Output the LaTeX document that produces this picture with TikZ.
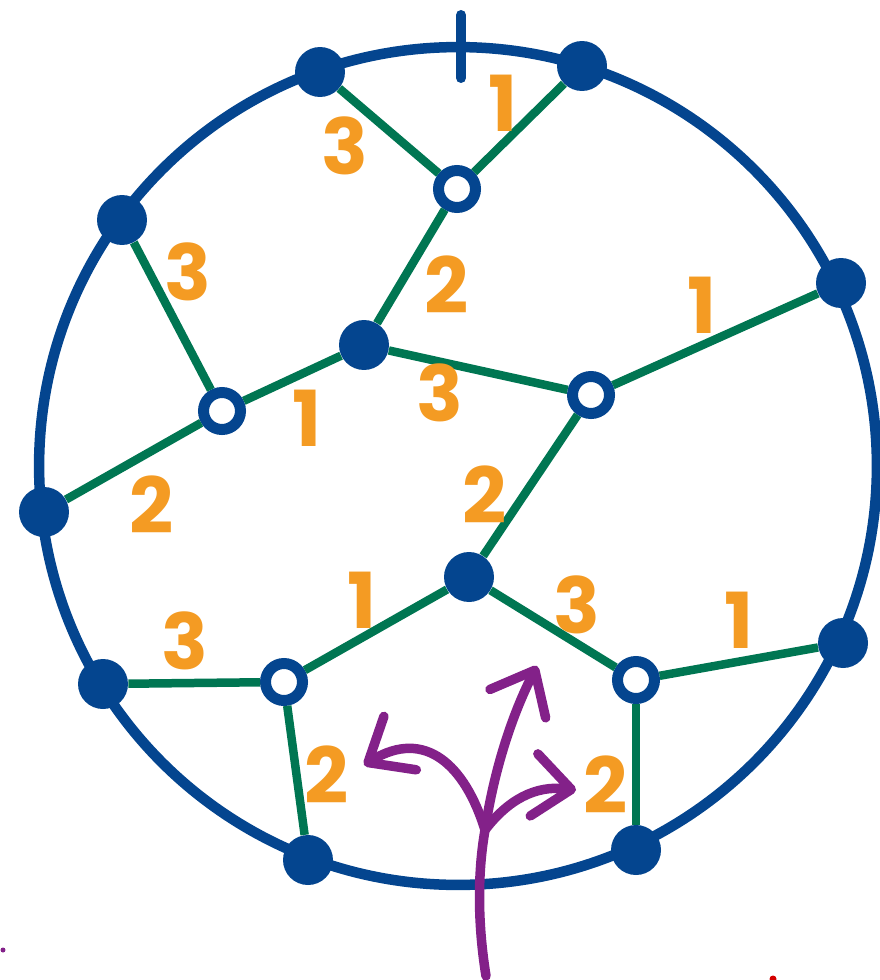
\documentclass[tikz,border=0pt]{standalone}
\usepackage{fontspec}
\setmainfont{Poppins}
\usepackage{tikz}
\usetikzlibrary{arrows.meta}
\definecolor{rimblue}{HTML}{04458F}
\definecolor{edgegreen}{HTML}{007652}
\definecolor{labelorange}{HTML}{F49B23}
\definecolor{flowpurple}{HTML}{832189}
\definecolor{markred}{HTML}{D40000}

\begin{document}
\begin{tikzpicture}[
  x=0.02cm, y=-0.02cm,
  bdot/.style={circle, fill=rimblue, minimum size=1cm, inner sep=0pt},
  wdot/.style={circle, draw=rimblue, fill=white, line width=0.22cm,
    minimum size=0.74cm, inner sep=0pt},
  edge/.style={edgegreen, line width=0.17cm},
  lbl/.style={text=labelorange, font=\fontsize{44}{44}\selectfont\bfseries},
  flow/.style={flowpurple, line width=0.19cm, line cap=round},
  tip/.style={-{Straight Barb[length=0.75cm, width=1.25cm, round]}},
]
  \useasboundingbox (0,0) rectangle (879,980);

  % Rim
  \node[circle, draw=rimblue, line width=0.21cm, minimum size=16.76cm,
        inner sep=0pt] (rim) at (458,466) {};
  \draw[rimblue, line width=0.2cm, line cap=round] (461,15) -- (461,78);

  % Boundary vertices
  \node[bdot] (b1) at (320,72)  {};
  \node[bdot] (b2) at (582,66)  {};
  \node[bdot] (b3) at (122,220) {};
  \node[bdot] (b4) at (841,283) {};
  \node[bdot] (b5) at (44,512)  {};
  \node[bdot] (b6) at (843,643) {};
  \node[bdot] (b7) at (103,684) {};
  \node[bdot] (b8) at (308,860) {};
  \node[bdot] (b9) at (636,850) {};

  % Interior vertices
  \node[wdot] (w1) at (457,189) {};
  \node[wdot] (w2) at (222,411) {};
  \node[wdot] (w3) at (591,395) {};
  \node[wdot] (w4) at (284,682) {};
  \node[wdot] (w5) at (636,680) {};
  \node[bdot] (k1) at (364,345) {};
  \node[bdot] (k2) at (469,577) {};

  % Edges
  \draw[edge] (b1) -- (w1);
  \draw[edge] (b2) -- (w1);
  \draw[edge] (w1) -- (k1);
  \draw[edge] (b3) -- (w2);
  \draw[edge] (w2) -- (k1);
  \draw[edge] (w2) -- (b5);
  \draw[edge] (k1) -- (w3);
  \draw[edge] (w3) -- (b4);
  \draw[edge] (w3) -- (k2);
  \draw[edge] (k2) -- (w4);
  \draw[edge] (k2) -- (w5);
  \draw[edge] (w5) -- (b6);
  \draw[edge] (w5) -- (b9);
  \draw[edge] (w4) -- (b7);
  \draw[edge] (w4) -- (b8);

  % Weights
  \node[lbl] (l1)  at (345,146) {3};
  \node[lbl] (l2)  at (503,103) {1};
  \node[lbl] (l3)  at (188,272) {3};
  \node[lbl] (l4)  at (447,285) {2};
  \node[lbl] (l5)  at (702,305) {1};
  \node[lbl] (l6)  at (307,418) {1};
  \node[lbl] (l7)  at (440,393) {3};
  \node[lbl] (l8)  at (152,505) {2};
  \node[lbl] (l9)  at (485,495) {2};
  \node[lbl] (l10) at (362,600) {1};
  \node[lbl] (l11) at (577,605) {3};
  \node[lbl] (l12) at (739,620) {1};
  \node[lbl] (l13) at (185,641) {3};
  \node[lbl] (l14) at (327,775) {2};
  \node[lbl] (l15) at (606,785) {2};

  % Flow arrows
  \coordinate (root) at (486,976);
  \coordinate (fork) at (485,830);
  \coordinate (up)   at (537,666);
  \coordinate (left) at (364,765);
  \coordinate (right) at (576,790);
  \draw[flow] (root) .. controls (477,920) and (478,870) .. (fork);
  \draw[flow, tip] (fork) .. controls (494,770) and (512,715) .. (up);
  \draw[flow, tip] (fork) .. controls (465,765) and (425,728) .. (left);
  \draw[flow, tip] (fork) .. controls (508,800) and (535,785) .. (right);

  % stray marks
  \fill[flowpurple] (3,950) circle (0.05cm);
  \fill[markred] (773,979) circle (0.07cm);
\end{tikzpicture}
\end{document}
